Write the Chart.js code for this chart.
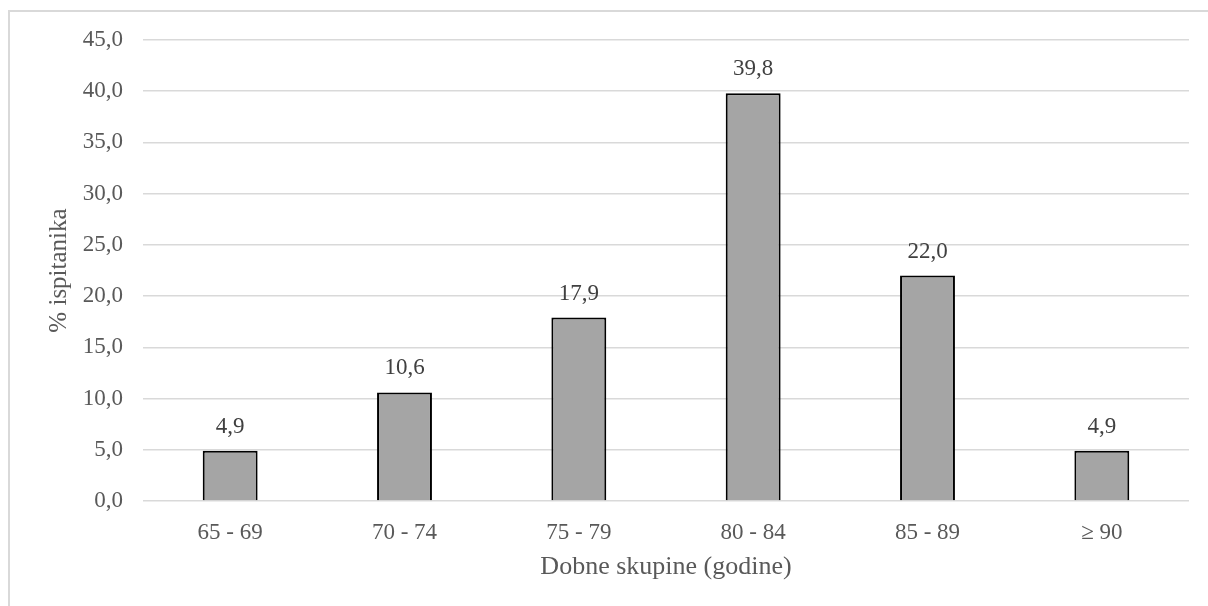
<!DOCTYPE html>
<html>
<head>
<meta charset="utf-8">
<script src="https://cdn.jsdelivr.net/npm/chart.js@4/dist/chart.umd.min.js"></script>
<style>
  html, body { margin: 0; padding: 0; background: #ffffff; }
  #wrap { position: relative; width: 1208px; height: 606px; }
  #frame { position: absolute; left: 8px; top: 10px; width: 1200px; height: 596px;
           border-left: 2px solid #d9d9d9; border-top: 2px solid #d9d9d9; pointer-events: none; box-sizing: border-box; }
</style>
</head>
<body>
<div id="wrap">
  <canvas id="c" width="1208" height="606"></canvas>
  <div id="frame"></div>
</div>
<script>
const categories = ['65 - 69', '70 - 74', '75 - 79', '80 - 84', '85 - 89', '\u2265 90'];
const percentages = [4.9, 10.6, 17.9, 39.8, 22.0, 4.9];
const yTitle = '% ispitanika';
const xTitle = 'Dobne skupine (godine)';

const fmt = v => Number(v).toFixed(1).replace('.', ',');
const FONT = '"Liberation Serif", "Times New Roman", serif';

const valueLabels = {
  id: 'valueLabels',
  afterDatasetsDraw(chart) {
    const ctx = chart.ctx;
    const meta = chart.getDatasetMeta(0);
    ctx.save();
    ctx.font = '23px ' + FONT;
    ctx.fillStyle = '#404040';
    ctx.textAlign = 'center';
    ctx.textBaseline = 'middle';
    meta.data.forEach((bar, i) => {
      ctx.fillText(fmt(chart.data.datasets[0].data[i]), bar.x, bar.y - 24);
    });
    ctx.restore();
  }
};

new Chart(document.getElementById('c'), {
  type: 'bar',
  data: {
    labels: categories,
    datasets: [{
      data: percentages,
      backgroundColor: '#a5a5a5',
      borderColor: '#000000',
      borderWidth: 2,
      categoryPercentage: 1,
      barPercentage: 0.315
    }]
  },
  options: {
    responsive: false,
    animation: false,
    layout: { padding: { top: 40, right: 19, bottom: 0, left: 0 } },
    plugins: { legend: { display: false }, tooltip: { enabled: false } },
    scales: {
      x: {
        grid: { display: false },
        border: { display: false },
        ticks: { color: '#595959', font: { family: FONT, size: 23 }, padding: 10, maxRotation: 0 },
        title: { display: true, text: xTitle, color: '#595959', font: { family: FONT, size: 26 }, padding: { top: 0, bottom: 23 } },
        afterFit(scale) { scale.height = 105; }
      },
      y: {
        min: 0, max: 45,
        grid: { color: '#d9d9d9', lineWidth: 1.5, drawTicks: false },
        border: { display: false },
        ticks: { stepSize: 5, color: '#595959', font: { family: FONT, size: 23 }, padding: 20, callback: v => fmt(v) },
        title: { display: true, text: yTitle, color: '#595959', font: { family: FONT, size: 25 }, padding: { top: 44, bottom: 0 } },
        afterFit(scale) { scale.width = 143; }
      }
    }
  },
  plugins: [valueLabels]
});
</script>
</body>
</html>
